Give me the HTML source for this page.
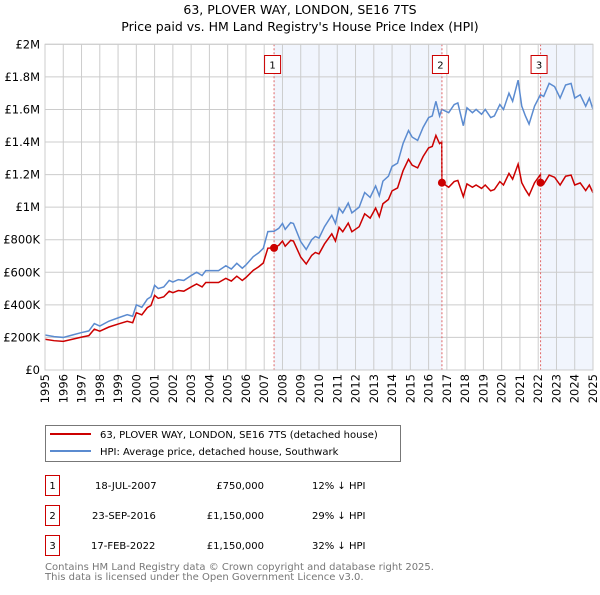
<!DOCTYPE html>
<html><head><meta charset="utf-8"><style>
body{margin:0;background:#fff;font-family:"Liberation Sans","DejaVu Sans",sans-serif;}
svg text{font-family:"DejaVu Sans","Liberation Sans",sans-serif;}
</style></head><body>
<svg id="chart" width="600" height="590" viewBox="0 0 600 590" xmlns="http://www.w3.org/2000/svg">
<text x="300" y="14" text-anchor="middle" font-size="12.5">63, PLOVER WAY, LONDON, SE16 7TS</text>
<text x="300" y="31" text-anchor="middle" font-size="12.5">Price paid vs. HM Land Registry's House Price Index (HPI)</text>
<g id="shade"></g><g id="grid"></g><g id="series"></g><g id="marks"></g>
<rect x="45" y="44.3" width="548" height="325.7" fill="none" stroke="#ccc"/>
<g>
<rect x="45.5" y="425.5" width="355" height="36" fill="#fff" stroke="#777"/>
<line x1="50" y1="434" x2="91" y2="434" stroke="#cc0000" stroke-width="2"/>
<text x="100" y="438" font-size="10">63, PLOVER WAY, LONDON, SE16 7TS (detached house)</text>
<line x1="50" y1="451" x2="91" y2="451" stroke="#5b8bd0" stroke-width="2"/>
<text x="100" y="455" font-size="10">HPI: Average price, detached house, Southwark</text>
</g>
<g font-size="10">
<g><rect x="45.5" y="475.5" width="14" height="20" fill="none" stroke="#cc0000"/><text x="52.5" y="489" text-anchor="middle">1</text><text x="95" y="489">18-JUL-2007</text><text x="264" y="489" text-anchor="end">£750,000</text><text x="312" y="489">12% ↓ HPI</text></g>
<g><rect x="45.5" y="505.5" width="14" height="20" fill="none" stroke="#cc0000"/><text x="52.5" y="519" text-anchor="middle">2</text><text x="92" y="519">23-SEP-2016</text><text x="264" y="519" text-anchor="end">£1,150,000</text><text x="312" y="519">29% ↓ HPI</text></g>
<g><rect x="45.5" y="535.5" width="14" height="20" fill="none" stroke="#cc0000"/><text x="52.5" y="549" text-anchor="middle">3</text><text x="91" y="549">17-FEB-2022</text><text x="264" y="549" text-anchor="end">£1,150,000</text><text x="312" y="549">32% ↓ HPI</text></g>
</g>
<text x="45" y="570" font-size="10" fill="#777">Contains HM Land Registry data © Crown copyright and database right 2025.</text>
<text x="45" y="580" font-size="10" fill="#777">This data is licensed under the Open Government Licence v3.0.</text>
</svg>
<script>
const dates=[1995.0,1995.5,1996.0,1996.5,1997.0,1997.4,1997.7,1998.0,1998.5,1999.0,1999.5,1999.8,2000.0,2000.3,2000.6,2000.8,2001.0,2001.2,2001.5,2001.8,2002.0,2002.3,2002.6,2003.0,2003.3,2003.6,2003.8,2004.5,2004.9,2005.2,2005.5,2005.8,2006.0,2006.4,2006.7,2006.95,2007.2,2007.54,2007.8,2008.0,2008.15,2008.45,2008.6,2009.0,2009.3,2009.6,2009.8,2010.0,2010.3,2010.7,2010.9,2011.1,2011.3,2011.6,2011.8,2012.2,2012.5,2012.8,2013.1,2013.3,2013.5,2013.8,2014.0,2014.3,2014.6,2014.9,2015.1,2015.4,2015.7,2016.0,2016.2,2016.4,2016.6,2016.72,2016.73,2017.1,2017.4,2017.6,2017.9,2018.1,2018.4,2018.6,2018.9,2019.1,2019.4,2019.6,2019.9,2020.1,2020.4,2020.6,2020.9,2021.1,2021.3,2021.5,2021.8,2022.12,2022.13,2022.3,2022.6,2022.9,2023.2,2023.5,2023.8,2024.0,2024.3,2024.6,2024.8,2025.0];
const hpiValues=[215,205,200,215,230,240,285,270,300,320,340,330,400,385,435,450,520,500,510,550,540,555,550,580,600,580,610,610,640,620,655,625,645,696,720,747,850,852,870,900,864,905,900,788,740,800,820,810,880,950,900,995,965,1025,965,1000,1090,1060,1130,1070,1160,1190,1250,1270,1390,1470,1430,1410,1490,1550,1560,1650,1560,1600,1600,1580,1630,1640,1500,1610,1580,1600,1570,1600,1550,1560,1630,1600,1700,1650,1780,1620,1560,1510,1620,1690,1690,1680,1760,1740,1670,1750,1760,1670,1690,1620,1670,1600];
const priceValues=[189,180,176,189,202,211,251,238,264,282,299,290,352,339,383,396,458,440,449,484,475,488,484,510,528,510,537,537,563,546,576,550,568,612,634,657,748,750,766,792,760,796,792,693,651,704,722,713,774,836,792,876,849,902,849,880,959,933,994,942,1021,1047,1100,1118,1223,1294,1258,1241,1311,1364,1373,1440,1390,1400,1150,1122,1157,1164,1065,1143,1122,1136,1115,1136,1100,1108,1157,1136,1207,1172,1264,1150,1108,1072,1150,1200,1150,1142,1197,1183,1136,1190,1197,1136,1149,1102,1136,1088];
const saleDates=[2007.54,2016.73,2022.13];
const saleValues=[750,1150,1150];
const saleLabels=["1","2","3"];
const yTicks=[0,200,400,600,800,1000,1200,1400,1600,1800,2000];
const yTickLabels=["£0","£200K","£400K","£600K","£800K","£1M","£1.2M","£1.4M","£1.6M","£1.8M","£2M"];
const xTicks=[1995,1996,1997,1998,1999,2000,2001,2002,2003,2004,2005,2006,2007,2008,2009,2010,2011,2012,2013,2014,2015,2016,2017,2018,2019,2020,2021,2022,2023,2024,2025];

const X0=45,X1=593,Y0=370,Y1=44.3;
function xs(t){return X0+(t-1995)/30*(X1-X0);}
function ys(v){return Y0-v/2000*(Y0-Y1);}
const NS="http://www.w3.org/2000/svg";
function mk(tag,attrs,parent){const e=document.createElementNS(NS,tag);for(const k in attrs)e.setAttribute(k,attrs[k]);parent.appendChild(e);return e;}
const shade=document.getElementById('shade'),grid=document.getElementById('grid'),series=document.getElementById('series'),marks=document.getElementById('marks');

let r1=mk('rect',{x:xs(saleDates[0]),y:Y1,width:xs(saleDates[1])-xs(saleDates[0]),height:Y0-Y1,fill:'#eef3fd',opacity:0.8},shade);


let r2=mk('rect',{x:xs(saleDates[2]),y:Y1,width:X1-xs(saleDates[2]),height:Y0-Y1,fill:'#eef3fd',opacity:0.8},shade);



yTicks.forEach((v,i)=>{
  let l=mk('line',{x1:X0,x2:X1,y1:ys(v),y2:ys(v),stroke:'#ccc'},grid);
  
  
  let t=mk('text',{x:40,y:ys(v)+4,'text-anchor':'end','font-size':'11.5'},grid);
  t.textContent=yTickLabels[i];
  
  
});
xTicks.forEach(yr=>{
  let l=mk('line',{x1:xs(yr),x2:xs(yr),y1:Y1,y2:Y0,stroke:'#ccc'},grid);
  
  
  let t=mk('text',{x:0,y:0,'text-anchor':'end','font-size':'11.5',transform:`translate(${xs(yr)+4},374) rotate(-90)`},grid);
  t.textContent=yr;
  
  
});
saleDates.forEach((d,i)=>{
  let l=mk('line',{x1:xs(d),x2:xs(d),y1:Y1,y2:Y0,stroke:'#e06666','stroke-dasharray':'2,2'},marks);
  
  
});
let hp=mk('polyline',{points:dates.map((d,i)=>xs(d)+','+ys(hpiValues[i])).join(' '),fill:'none',stroke:'#5b8bd0','stroke-width':1.5},series);


let pp=mk('polyline',{points:dates.map((d,i)=>xs(d)+','+ys(priceValues[i])).join(' '),fill:'none',stroke:'#cc0000','stroke-width':1.5},series);


saleDates.forEach((d,i)=>{
  let c=mk('circle',{cx:xs(d),cy:ys(saleValues[i]),r:4,fill:'#cc0000'},marks);
  
  
  let b=mk('rect',{x:xs(d)-9.5,y:55.5,width:16,height:18,fill:'#fff',stroke:'#cc0000'},marks);
  
  
  let t=mk('text',{x:xs(d)-1.5,y:68.5,'text-anchor':'middle','font-size':'10'},marks);
  t.textContent=saleLabels[i];
  
  
});
</script>
</body></html>
